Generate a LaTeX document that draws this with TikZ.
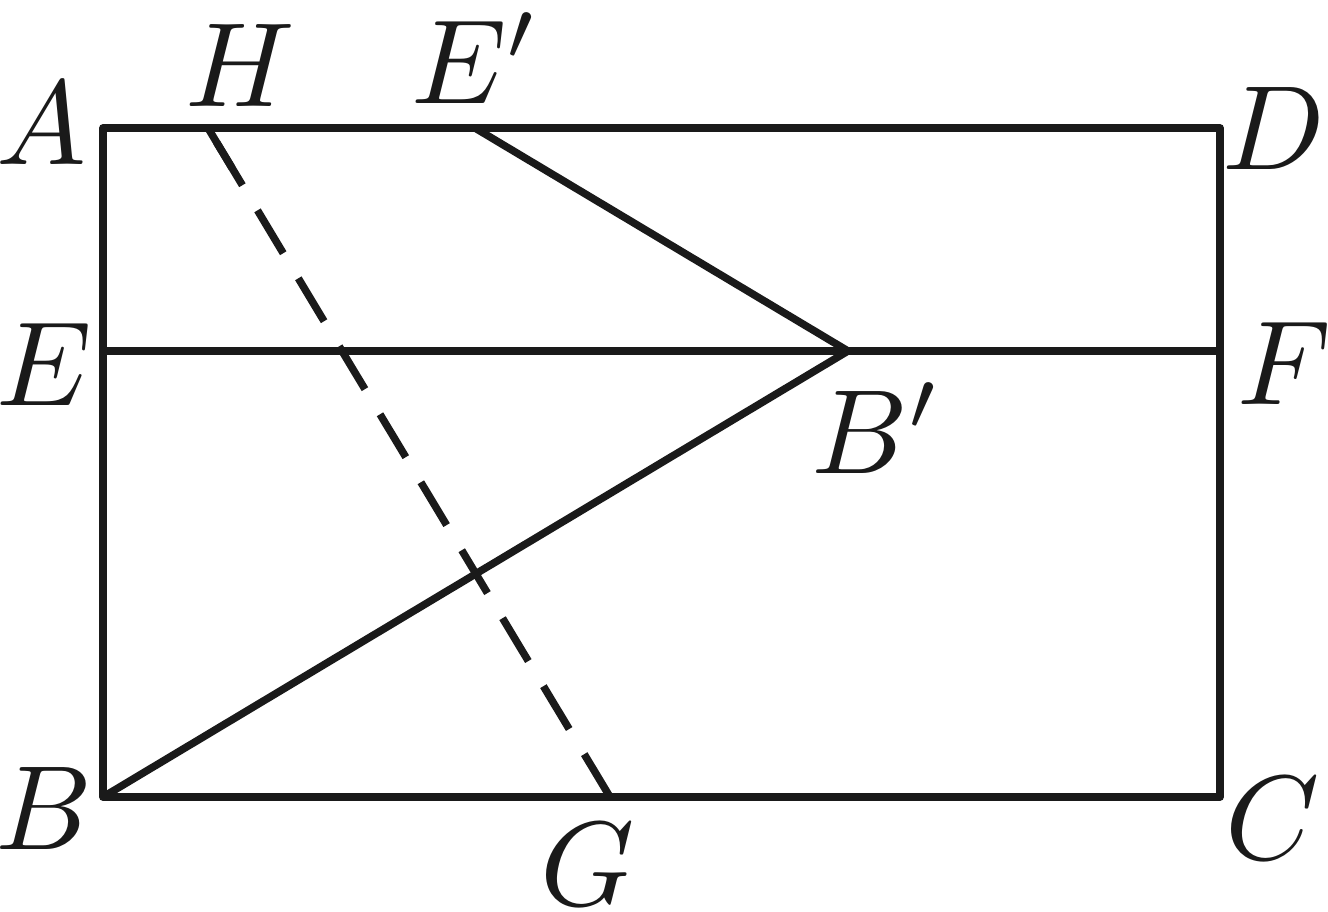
\documentclass[tikz,border=0pt]{standalone}
\usetikzlibrary{calc}
\definecolor{ink}{HTML}{1A1A1A}
\tikzset{
  geo/.style={draw=ink, line width=7.5pt, line join=round},
  dashgeo/.style={draw=ink, line width=7.5pt, dash pattern=on 50pt off 29.3pt},
  lbl/.style={text=ink, inner sep=0pt, scale=12}
}
\begin{document}
\begin{tikzpicture}[x=1pt,y=-1pt]
\useasboundingbox (0,0) rectangle (1328,912);
\coordinate (A) at (103,128);
\coordinate (D) at (1220,128);
\coordinate (B) at (103,797);
\coordinate (C) at (1220,797);
\coordinate (E) at (103,351);
\coordinate (F) at (1220,351);
\coordinate (H) at (208,128);
\coordinate (Ep) at (475,128);
\coordinate (Bp) at (848,351);
\coordinate (G) at (610,797);
\coordinate (Hs) at ($(H)!0.06!(G)$);
% figure
\draw[geo] (A) -- (D) -- (C) -- (B) -- cycle;
\draw[geo] (E) -- (F);
\draw[geo] (Ep) -- (Bp) -- (B);
\draw[dashgeo] (G) -- (H);
\draw[geo] (H) -- (Hs);
% labels
\node[lbl] (lA) at (42,124) {$A$};
\node[lbl] (lH) at (240,66) {$H$};
\node[lbl] (lEp) at (476,58) {$E'$};
\node[lbl] (lD) at (1274,129) {$D$};
\node[lbl] (lE) at (44,364) {$E$};
\node[lbl] (lF) at (1284,363) {$F$};
\node[lbl] (lBp) at (877,428) {$B'$};
\node[lbl] (lB) at (44,808) {$B$};
\node[lbl] (lG) at (588,864) {$G$};
\node[lbl] (lC) at (1273,818) {$C$};
\end{tikzpicture}
\end{document}
